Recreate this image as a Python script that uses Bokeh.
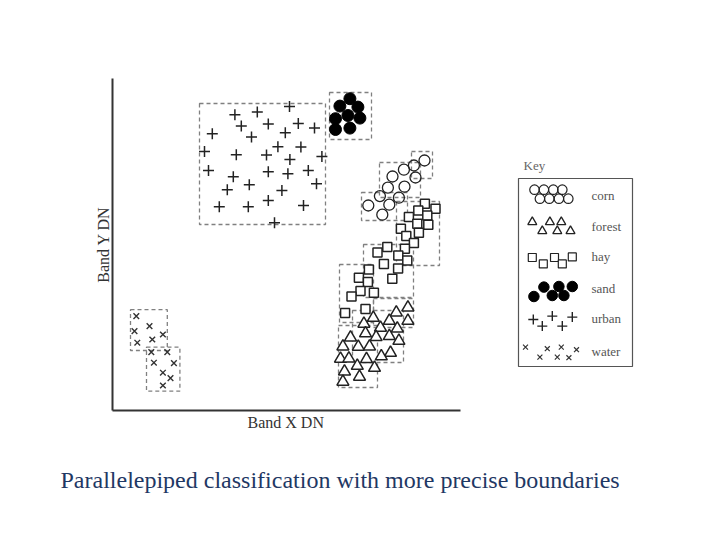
from bokeh.plotting import figure
from bokeh.models import Range1d, Title
from bokeh.core.properties import value
from bokeh.embed import file_html
from bokeh.resources import INLINE

# ---- data (Band X DN, Band Y DN) ----
urban_x = [61.2, 72.4, 88.5, 64.4, 77.9, 92.9, 101.0, 49.9, 69.5, 86.4, 82.7, 94.2, 46.0, 61.9, 77.0, 88.7,
           104.7, 48.0, 60.4, 77.9, 87.7, 97.9, 102.0, 68.4, 57.4, 84.7, 77.9, 53.4, 67.9, 95.5, 81.0]
urban_y = [147.9, 149.2, 152.0, 142.2, 143.2, 143.5, 141.2, 138.4, 136.7, 138.9, 131.9, 131.7, 129.5, 127.9, 127.7, 125.5,
           127.0, 120.0, 116.9, 119.4, 118.4, 120.0, 113.4, 112.9, 110.4, 110.0, 105.0, 101.9, 101.9, 102.5, 93.9]

sand_x = [118.7, 113.7, 122.7, 117.7, 111.5, 123.7, 111.5, 118.7]
sand_y = [155.9, 152.2, 151.7, 147.5, 145.9, 146.2, 140.5, 141.2]

corn_x = [156.0, 150.7, 145.7, 151.5, 140.0, 146.0, 137.7, 133.7, 143.2, 127.9, 138.4, 134.9]
corn_y = [125.0, 122.5, 120.4, 116.5, 117.0, 111.9, 111.4, 107.2, 106.4, 102.5, 102.9, 97.9]

hay_x = [156.2, 161.5, 152.9, 157.4, 148.2, 152.4, 157.9, 144.2, 153.2, 146.9, 150.7, 146.2, 137.4, 132.5,
         142.9, 147.4, 135.7, 128.2, 142.8, 123.2, 127.7, 139.9, 124.0, 130.7, 119.5, 126.5, 116.3]
hay_y = [103.4, 100.9, 100.0, 97.5, 96.7, 93.4, 92.9, 90.9, 88.9, 87.2, 83.7, 80.9, 81.7, 79.0,
         77.5, 75.0, 73.3, 70.5, 71.0, 66.4, 64.2, 65.9, 59.7, 58.9, 57.0, 50.8, 48.8]

forest_x = [147.7, 141.9, 130.4, 138.4, 147.7, 125.7, 134.0, 142.4, 126.5, 131.8, 138.4, 143.2, 119.0,
            115.2, 122.9, 128.5, 139.0, 134.4, 114.0, 118.2, 127.0, 122.4, 131.0, 116.0, 123.5, 115.2]
forest_y = [51.5, 49.0, 46.3, 44.8, 44.8, 43.4, 41.4, 41.0, 38.6, 36.7, 37.2, 34.8, 36.5,
            32.0, 31.9, 32.0, 28.8, 27.1, 25.9, 26.0, 25.7, 22.3, 21.3, 19.5, 16.9, 14.4]

water_x = [11.9, 18.5, 11.0, 25.2, 19.9, 12.4, 19.4, 27.4, 20.7, 30.7, 25.2, 29.0, 25.2]
water_y = [47.2, 42.2, 39.7, 38.0, 35.5, 33.9, 29.2, 29.2, 23.9, 23.7, 18.9, 16.2, 12.5]

# parallelepiped boundaries (left, right, bottom, top)
box_left   = [43.5, 108.5, 149.5, 133.5, 124.5, 142.0, 125.5, 113.5, 130.5, 120.0, 113.0, 9.0, 17.0]
box_right  = [106.5, 129.5, 160.0, 154.0, 147.5, 163.5, 150.5, 130.5, 150.5, 145.5, 132.5, 27.4, 33.7]
box_bottom = [93.0, 135.5, 116.0, 106.5, 95.0, 72.5, 56.5, 44.0, 41.5, 24.0, 11.5, 30.0, 9.7]
box_top    = [153.5, 159.0, 129.5, 124.0, 109.0, 104.5, 83.0, 73.0, 56.0, 50.0, 42.5, 50.4, 31.7]

classes = ["corn", "forest", "hay", "sand", "urban", "water"]

INK = "#222222"
SERIF = "Liberation Serif"

p = figure(width=704, height=524, output_backend="svg", toolbar_location=None,
           x_range=Range1d(0, 265), y_range=Range1d(0, 166),
           frame_width=530, frame_height=332,
           min_border_left=112, min_border_top=78, min_border_right=62, min_border_bottom=114)
p.grid.visible = False
p.outline_line_color = None
p.background_fill_color = "white"
p.border_fill_color = "white"

for ax in (p.xaxis[0], p.yaxis[0]):
    ax.ticker = []
    ax.axis_line_color = "#333333"
    ax.axis_line_width = 2
    ax.major_tick_line_color = None
    ax.minor_tick_line_color = None
    ax.axis_label_text_font = SERIF
    ax.axis_label_text_font_style = "normal"
    ax.axis_label_text_font_size = "16px"
    ax.axis_label_text_color = "#333333"
p.yaxis.axis_label = "Band Y DN"
p.xaxis.bounds = (0, 174)
p.yaxis.axis_label_standoff = 1

# x axis title, placed under the drawn part of the axis
p.add_layout(Title(text="Band X DN", align="left", offset=135, standoff=3,
                   text_font=SERIF, text_font_size="16px", text_font_style="normal",
                   text_color="#333333"), "below")

# boundaries
p.quad(left=box_left, right=box_right, bottom=box_bottom, top=box_top,
       fill_color=None, line_color="#808080", line_width=1.3, line_dash="4 3")

# classes
p.scatter(urban_x, urban_y, marker="cross", size=11, line_color=INK, line_width=1.5)
p.scatter(sand_x, sand_y, marker="circle", size=12, fill_color="black", line_color="black")
p.scatter(corn_x, corn_y, marker="circle", size=11, fill_color=None, line_color=INK, line_width=1.3)
p.scatter(hay_x, hay_y, marker="square", size=9, fill_color="white", line_color=INK, line_width=1.5)
p.scatter(forest_x, forest_y, marker="triangle", size=12, fill_color="white", line_color=INK, line_width=1.5)
p.scatter(water_x, water_y, marker="x", size=8, line_color="#333333", line_width=1.4)

# ---- key ----
p.quad(left=[203], right=[260], bottom=[22], top=[116], fill_color=None,
       line_color="#555555", line_width=1.2)
p.text(x=[205.5], y=[122.5], text=["Key"], text_font=value(SERIF), text_font_size="13px",
       text_color="#666666", text_baseline="middle", text_align="left")
key_label_y = [107.5, 92.0, 77.0, 61.0, 46.0, 29.5]
p.text(x=[239.5] * 6, y=key_label_y, text=classes, text_font=value(SERIF), text_font_size="13px",
       text_color="#555555", text_baseline="middle", text_align="left")

p.scatter([211.0, 215.7, 220.4, 224.9, 213.7, 218.4, 223.2, 227.9],
          [110.4, 110.4, 110.4, 110.4, 105.9, 105.9, 105.9, 105.9],
          marker="circle", size=9.5, fill_color=None, line_color=INK, line_width=1.2)
p.scatter([209.9, 218.7, 224.4, 214.9, 222.4, 229.0], [94.2, 94.2, 94.2, 89.7, 89.7, 89.7],
          marker="triangle", size=9, fill_color="white", line_color=INK, line_width=1.3)
p.scatter([209.9, 221.0, 229.9, 215.4, 224.9], [76.5, 76.5, 76.8, 73.3, 73.3],
          marker="square", size=8, fill_color="white", line_color=INK, line_width=1.2)
p.scatter([210.7, 215.7, 219.9, 223.2, 225.7, 229.9], [57.0, 61.7, 57.5, 62.0, 57.5, 62.0],
          marker="circle", size=10.5, fill_color="black", line_color="black")
p.scatter([210.4, 214.9, 219.9, 224.9, 229.9], [45.5, 42.2, 47.2, 42.2, 46.7],
          marker="cross", size=10, line_color=INK, line_width=1.4)
p.scatter([206.5, 213.7, 217.4, 222.4, 224.4, 228.2, 232.0], [31.7, 26.7, 30.9, 26.7, 31.7, 26.4, 30.4],
          marker="x", size=7, line_color="#333333", line_width=1.2)

# ---- caption ----
caption = "Parallelepiped classification with more precise boundaries"
p.add_layout(Title(text=caption, align="left", offset=-52, standoff=65,
                   text_font=SERIF, text_font_size="24px", text_font_style="normal",
                   text_color="#1f3864"), "below")

open("out.html", "w").write(file_html(p, INLINE))
